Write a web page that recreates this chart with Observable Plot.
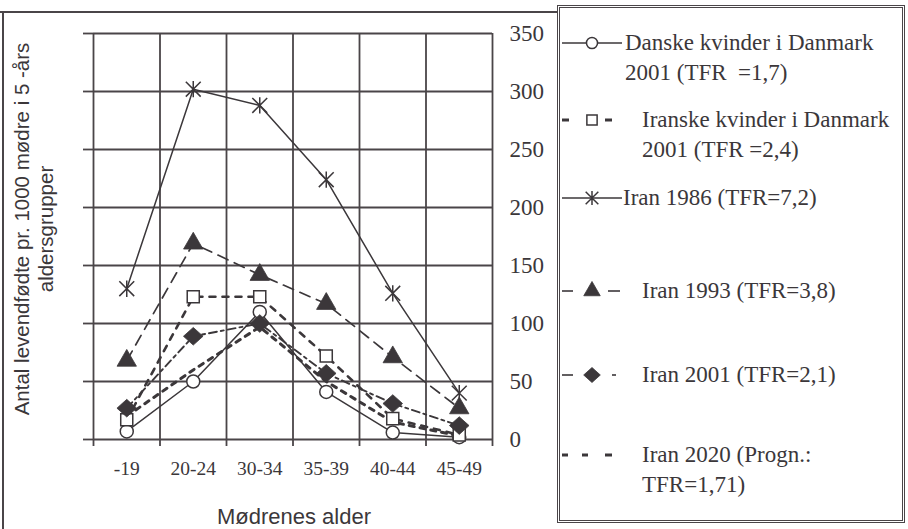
<!DOCTYPE html>
<html>
<head>
<meta charset="utf-8">
<script src="https://cdn.jsdelivr.net/npm/d3@7"></script>
<script src="https://cdn.jsdelivr.net/npm/@observablehq/plot@0.6"></script>
<style>
  body { margin: 0; background: #fff; }
  #wrap { position: relative; width: 908px; height: 529px; overflow: hidden; background: #fff; color: #3b373a; }
  #chart { position: absolute; left: 0; top: 0; }
  .fr { position: absolute; background: #4a4548; }
  #ytitle { position: absolute; left: 34px; top: 229px; width: 440px; transform: translate(-50%, -50%) rotate(-90deg);
            font-family: "Liberation Sans", Arial, sans-serif; font-size: 20.5px; line-height: 24px; text-align: center; white-space: nowrap; }
  #xtitle { position: absolute; left: 294px; top: 517px; transform: translate(-50%, -50%);
            font-family: "Liberation Sans", Arial, sans-serif; font-size: 22px; white-space: nowrap; }
  #legend { position: absolute; left: 557px; top: 5px; width: 342px; height: 512px; border: 3px double #4a4548; }
  .lt { position: absolute; font-family: "Liberation Serif", "Times New Roman", serif; font-size: 23px; line-height: 30px; white-space: pre; }
  .ls { position: absolute; overflow: visible; }
</style>
</head>
<body>
<div id="wrap">
  <div id="chart"></div>
  <div class="fr" style="left:0;top:11px;width:558px;height:2px"></div>
  <div class="fr" style="left:2px;top:11px;width:2px;height:520px"></div>
  <div id="ytitle">Antal levendfødte pr. 1000 mødre i 5 -års<br>aldersgrupper</div>
  <div id="xtitle">Mødrenes alder</div>
  <div id="legend"></div>
</div>
<script>
// ---- data ----
const ageGroups = ["-19", "20-24", "30-34", "35-39", "40-44", "45-49"];
const danske2001  = [7, 50, 110, 41, 6, 2];
const iranske2001 = [17, 123, 123, 72, 18, 4];
const iran1986    = [130, 302, 288, 224, 126, 40];
const iran1993    = [68, 169, 142, 117, 71, 27];
const iran2001    = [27, 89, 100, 57, 31, 12];
const iran2020    = [20, 60, 97, 50, 15, 3];
const yTicks = [0, 50, 100, 150, 200, 250, 300, 350];
const legendLabels = [
  ["Danske kvinder i Danmark", "2001 (TFR  =1,7)"],
  ["Iranske kvinder i Danmark", "2001 (TFR =2,4)"],
  ["Iran 1986 (TFR=7,2)"],
  ["Iran 1993 (TFR=3,8)"],
  ["Iran 2001 (TFR=2,1)"],
  ["Iran 2020 (Progn.:", "TFR=1,71)"]
];

// ---- styles ----
const ink = "#3b373a";
const gridInk = "#4a4548";
const xStar = {
  draw(ctx, size) {
    const r = Math.sqrt(size) * 0.6;
    ctx.moveTo(-r, -r); ctx.lineTo(r, r);
    ctx.moveTo(-r, r); ctx.lineTo(r, -r);
    ctx.moveTo(0, -r * 1.1); ctx.lineTo(0, r * 1.1);
  }
};
const wideDiamond = {
  draw(ctx, size) {
    const r = Math.sqrt(size) * 0.85;
    ctx.moveTo(0, -r * 0.9); ctx.lineTo(r, 0); ctx.lineTo(0, r * 0.9); ctx.lineTo(-r, 0); ctx.closePath();
  }
};
const series = [
  {values: danske2001,  dash: null,      sw: 1.5, symbol: "circle",    fill: "white", r: 6.5, open: true},
  {values: iranske2001, dash: "6,7",     sw: 2.6, symbol: "square",    fill: "white", r: 6.8, open: true},
  {values: iran1986,    dash: null,      sw: 1.5, symbol: xStar,       fill: "none",  r: 7,   open: true},
  {values: iran1993,    dash: "11,7",    sw: 1.7, symbol: "triangle",  fill: ink,     r: 7.2, open: false},
  {values: iran2001,    dash: "8,4,3,4", sw: 1.9, symbol: wideDiamond, fill: ink,     r: 6.5, open: false},
  {values: iran2020,    dash: "5,6",     sw: 3,   symbol: null,        fill: null,    r: 0,   open: false}
];

const edges = d3.range(ageGroups.length + 1).map(i => i - 0.5);
const centers = d3.range(ageGroups.length);

const marks = [
  Plot.gridY(yTicks, {stroke: gridInk, strokeOpacity: 1, strokeWidth: 1.8}),
  Plot.gridX(edges, {stroke: gridInk, strokeOpacity: 1, strokeWidth: 1.8}),
  Plot.axisY(yTicks, {anchor: "left", tickSize: 10, tickFormat: () => "", label: null, stroke: gridInk, strokeWidth: 1.8}),
  Plot.axisX(edges, {anchor: "bottom", tickSize: 7, tickFormat: () => "", label: null, stroke: gridInk, strokeWidth: 1.8}),
  Plot.axisY(yTicks, {anchor: "right", tickSize: 0, tickPadding: 17, label: null, fontSize: 23, fill: ink}),
  Plot.axisX(centers, {anchor: "bottom", tickSize: 0, tickPadding: 22, label: null, fontSize: 19.5, fill: ink, tickFormat: i => ageGroups[i]})
];
series.forEach(s => {
  const rows = s.values.map((v, i) => ({i, v}));
  marks.push(Plot.line(rows, {x: "i", y: "v", stroke: ink, strokeWidth: s.sw, strokeDasharray: s.dash || undefined}));
});
series.forEach(s => {
  if (!s.symbol) return;
  const rows = s.values.map((v, i) => ({i, v}));
  marks.push(Plot.dot(rows, {x: "i", y: "v", symbol: s.symbol, r: s.r, fill: s.fill, stroke: ink, strokeWidth: s.open ? 1.5 : 0.8}));
});

const chart = Plot.plot({
  width: 557, height: 529,
  marginLeft: 93, marginRight: 65, marginTop: 33, marginBottom: 90,
  style: {fontFamily: "'Liberation Serif', 'Times New Roman', serif", color: ink, background: "transparent", overflow: "visible"},
  x: {type: "linear", domain: [-0.5, ageGroups.length - 0.5], axis: null},
  y: {domain: [0, 350], axis: null},
  marks
});
document.getElementById("chart").appendChild(chart);

// ---- legend ----
const legend = document.getElementById("legend");
const boxL = 560, boxT = 8; // inner origin of legend box
const entryY = [43, 120, 198, 291, 375, 455];
const textX = [625, 642, 623, 642, 642, 642];
const symTypes = {circle: d3.symbolCircle, square: d3.symbolSquare, triangle: d3.symbolTriangle};
series.forEach((s, k) => {
  const cy = entryY[k];
  const svg = d3.create("svg").attr("class", "ls")
    .attr("width", 70).attr("height", 30)
    .style("left", (558 - boxL) + "px").style("top", (cy - 15 - boxT) + "px");
  const segs = k === 0 || k === 2 ? [[4, 64]] :
               k === 1 ? [[4, 11], [47, 54]] :
               k === 3 ? [[4, 15], [50, 62]] :
               k === 4 ? [[4, 15], [54, 58]] :
               [[4, 10], [24, 30], [47, 54]];
  segs.forEach(([a, b]) => svg.append("line").attr("x1", a).attr("x2", b).attr("y1", 15).attr("y2", 15)
      .attr("stroke", ink).attr("stroke-width", k === 1 || k === 5 ? 3 : 1.6));
  if (s.symbol) {
    const type = typeof s.symbol === "string" ? symTypes[s.symbol] : s.symbol;
    svg.append("path").attr("transform", "translate(34,15)")
      .attr("d", d3.symbol(type, Math.PI * (s.r * 0.85) ** 2)())
      .attr("fill", s.fill).attr("stroke", ink).attr("stroke-width", s.open ? 1.5 : 0.8);
  }
  legend.appendChild(svg.node());
  legendLabels[k].forEach((t, j) => {
    const d = document.createElement("div");
    d.className = "lt";
    d.textContent = t;
    d.style.left = (textX[k] - boxL) + "px";
    d.style.top = (cy - 15 + j * 30 - boxT) + "px";
    legend.appendChild(d);
  });
});
</script>
</body>
</html>
